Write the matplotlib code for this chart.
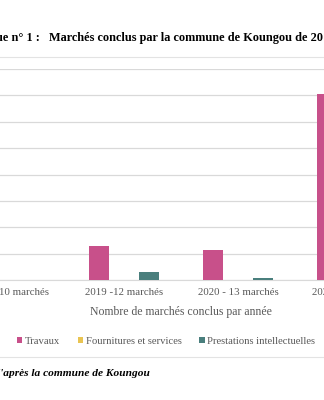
import matplotlib
matplotlib.use("Agg")
import matplotlib.pyplot as plt
import numpy as np
from matplotlib.patches import Rectangle, Patch

# ---- data (values in gridline units; y tick labels are cropped off) ----
categories = ["2018 -10 marchés", "2019 -12 marchés", "2020 - 13 marchés", "2021 - 31 marchés"]
travaux = [1.0, 1.28, 1.14, 7.07]
fournitures = [0.0, 0.0, 0.0, 0.0]
prestations = [0.0, 0.29, 0.06, 0.0]
series_names = ["Travaux", "Fournitures et services", "Prestations intellectuelles"]
colors = ["#C8508A", "#E9C452", "#4A7F7D"]

W, H = 324, 400
fig = plt.figure(figsize=(W / 100, H / 100), dpi=100)
fig.patch.set_facecolor("white")

def fx(px):
    return px / W

def fy(py):
    return 1 - py / H

serif = ["Liberation Serif", "DejaVu Serif"]
gray = "#595959"

# chart frame (extends beyond the crop at left/right)
fig.patches.append(Rectangle((fx(-20), fy(357)), fx(364), fy(57) - fy(357),
                             transform=fig.transFigure, fill=False,
                             edgecolor="#E3E3E3", linewidth=0.8))

# axes: category centers at x = 10, 124, 238, 352 px ; y from 280 (0) to 69 (8)
left_px, right_px = -47, 409
ax = fig.add_axes([fx(left_px), fy(280), fx(right_px - left_px), fy(69) - fy(280)])
x = np.arange(len(categories))
bw = 20 / 114
off = 25 / 114
ax.bar(x - off, travaux, bw, color=colors[0], label=series_names[0], zorder=3)
ax.bar(x, fournitures, bw, color=colors[1], label=series_names[1], zorder=3)
ax.bar(x + off, prestations, bw, color=colors[2], label=series_names[2], zorder=3)

ax.set_xlim(-0.5, 3.5)
ax.set_ylim(0, 8)
ax.set_yticks(np.arange(0, 9, 1))
ax.set_yticklabels([])
ax.yaxis.grid(True, color="#D9D9D9", linewidth=0.9)
ax.set_axisbelow(True)
for s in ["top", "right", "left"]:
    ax.spines[s].set_visible(False)
ax.spines["bottom"].set_color("#D9D9D9")
ax.tick_params(axis="both", length=0)
ax.set_xticks(x)
ax.set_xticklabels(categories, family=serif, fontsize=7.8, color=gray)
ax.tick_params(axis="x", pad=6)
ax.set_xlabel("Nombre de marchés conclus par année", family=serif, fontsize=8.5,
              color=gray, labelpad=6)

# title
fig.text(fx(40), fy(38), "Graphique n° 1 :", family=serif, fontweight="bold",
         fontsize=8.8, ha="right", va="center", color="black")
fig.text(fx(49), fy(38), "Marchés conclus par la commune de Koungou de 2018 à 2021",
         family=serif, fontweight="bold", fontsize=8.8, ha="left", va="center", color="black")

# legend
handles = [Patch(facecolor=c, edgecolor="none") for c in colors]
fig.legend(handles, series_names, loc="center", bbox_to_anchor=(fx(166), fy(341)),
           ncol=3, frameon=False, prop={"family": serif, "size": 7.7},
           labelcolor=gray, handlelength=0.5, handleheight=0.5,
           handletextpad=0.25, columnspacing=1.65, borderaxespad=0, borderpad=0)

# source
fig.text(fx(150), fy(374), "Source : d'après la commune de Koungou", family=serif,
         style="italic", fontweight="bold", fontsize=8.2, ha="right", va="center",
         color="black")

fig.savefig("out.png", dpi=100, facecolor="white")
